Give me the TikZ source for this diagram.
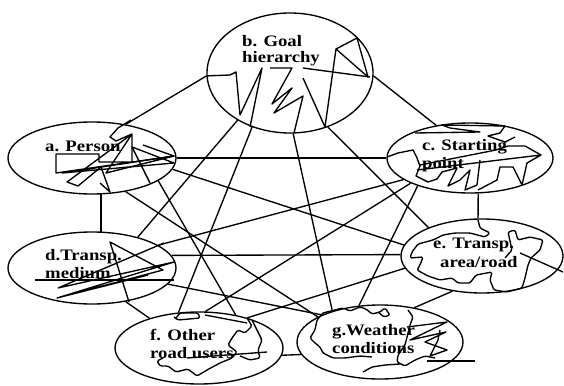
\documentclass[tikz,border=0pt]{standalone}
\usepackage{fontspec}
\usepackage{graphicx}
\setmainfont{Liberation Serif}
\usetikzlibrary{shapes.geometric}
\newcommand{\widetext}[1]{\scalebox{1.17}[1]{#1}}
\begin{document}
\begin{tikzpicture}[x=1pt,y=-1pt,
  factor/.style={ellipse, draw, line width=1.35pt, inner sep=0pt},
  lbl/.style={anchor=base west, inner sep=0pt, font=\fontsize{16}{17}\selectfont\bfseries},
  link/.style={line width=1.35pt},
  scrib/.style={line width=1.35pt, line join=round}]
\useasboundingbox (0,0) rectangle (564,385);

% the seven factors
\node[factor, minimum width=168pt, minimum height=72pt]  (a) at (92,158)  {};
\node[factor, minimum width=166pt, minimum height=120pt] (b) at (290,73)  {};
\node[factor, minimum width=166pt, minimum height=70pt]  (c) at (470,158) {};
\node[factor, minimum width=168pt, minimum height=72pt]  (d) at (92,268)  {};
\node[factor, minimum width=162pt, minimum height=74pt]  (e) at (482,256) {};
\node[factor, minimum width=168pt, minimum height=72pt]  (f) at (199,348) {};
\node[factor, minimum width=166pt, minimum height=74pt]  (g) at (380,342) {};

% labels
\node[lbl] (ta)  at (45,151)  {\widetext{a. Person}};
\node[lbl] (tb1) at (242,47)  {\widetext{b. Goal}};
\node[lbl] (tb2) at (242,63)  {\widetext{hierarchy}};
\node[lbl] (tc1) at (422,150) {\widetext{c. Starting}};
\node[lbl] (tc2) at (422,168) {\widetext{point}};
\node[lbl] (td1) at (45,260)  {\widetext{d.Transp.}};
\node[lbl] (td2) at (45,278)  {\widetext{medium}};
\node[lbl] (te1) at (433,248) {\widetext{e. Transp.}};
\node[lbl] (te2) at (440,267) {\widetext{area/road}};
\node[lbl] (tf1) at (150,340) {\widetext{f. Other}};
\node[lbl] (tf2) at (150,358) {\widetext{road users}};
\node[lbl] (tg1) at (332,335) {\widetext{g.Weather}};
\node[lbl] (tg2) at (332,353) {\widetext{conditions}};

% every factor is linked with every other one
\draw[link] (a.45)   -- (b.182);
\draw[link] (b.-2)   -- (c.136);
\draw[link] (a.0)    -- (c.180);
\draw[link] (a.-76)  -- (d.76);
\draw[link] (a.-8)   -- (e.172);
\draw[link] (a.-19)  -- (f.42);
\draw[link] (a.-45)  -- (g.158);
\draw[link] (b.-138) -- (d.34);
\draw[link] (b.-55)  -- (e.152);
\draw[link] (b.-125) -- (f.120);
\draw[link] (b.-87)  -- (g.147);
\draw[link] (c.-162) -- (d.19);
\draw[link] (c.-77)  -- (e.96);
\draw[link] (c.-157) -- (f.80);
\draw[link] (c.-152) -- (g.120);
\draw[link] (d.9)    -- (e.179);
\draw[link] (d.-45)  -- (f.149);
\draw[link] (d.-12)  -- (g.155);
\draw[link] (e.-171) -- (f.32);
\draw[link] (e.-130) -- (g.45);
\draw[link] (f.-5)   -- (g.-171);

% hand-drawn strokes inside the factors
% a
\draw[scrib] (131,120) -- (118,128) -- (110,137) -- (116,141) -- (132,134) -- (132,162)
  -- (99,162) -- (99,154) -- (56,154) -- (56,173) -- (174,156) -- (106,173) -- (132,134)
  -- (67,182) -- (78,186) -- (101,167) -- (110,192) -- (100,183);
\draw[scrib] (143,145) -- (174,156) -- (62,173) -- (174,163) -- (132,147) -- (150,183);
% b
\draw[scrib] (b.182) -- (230,75) -- (236,72) -- (240,115) -- (262,68) -- (250,127);
\draw[scrib] (270,68) -- (292,68) -- (272,104) -- (292,88) -- (274,113) -- (303,96) -- (294,133);
\draw[scrib] (303,78) -- (325,127) -- (336,49) -- (368,77) -- (357,38) -- (336,49);
\draw[scrib] (303,68) -- (370,77);
% c
\draw[scrib] (415,133) -- (480,132) -- (450,128) -- (442,125) -- (505,126) -- (500,133)
  -- (488,136) -- (505,142) -- (515,137);
\draw[scrib] (387,157) -- (398,153) -- (413,150) -- (417,158) -- (420,166) -- (416,176)
  -- (428,182) -- (437,179) -- (442,172) -- (457,168) -- (448,186) -- (460,180) -- (470,170)
  -- (465,190) -- (477,185) -- (480,160);
\draw[scrib] (417,170) -- (541,155) -- (527,163) -- (522,185) -- (513,167) -- (500,167)
  -- (497,180) -- (478,190);
\draw[scrib] (420,165) -- (496,150) -- (508,146) -- (525,146) -- (541,155);
% d
\draw[scrib] (35,280) -- (174,280);
\draw[scrib] (58,288) -- (164,243) (58,288) -- (174,262) -- (57,298) -- (163,270)
  -- (110,242) -- (129,302) (57,298) -- (148,275);
% e
\draw[scrib, rounded corners=1.5pt] (478,220) -- (480,228) -- (490,233) -- (485,237) -- (470,233)
  -- (455,233) -- (443,235) -- (433,240) -- (418,244) -- (412,252) -- (410,258) -- (423,257)
  -- (420,265) -- (417,270) -- (428,276) -- (440,280) -- (452,278) -- (458,283) -- (470,283)
  -- (476,275) -- (492,272) -- (490,280) -- (494,290) -- (507,292) -- (522,288) -- (525,278)
  -- (528,265) -- (531,258) -- (540,250) -- (543,240) -- (530,237) -- (518,240) -- (515,230)
  -- (508,232) -- (512,250) -- (505,258);
\draw[scrib] (520,253) -- (563,272);
% f
\draw[scrib, rounded corners=1.5pt] (176,318) -- (180,313) -- (198,313) -- (200,318) -- (178,320) -- (174,317);
\draw[scrib] (205,315) -- (247,323);
\draw[scrib, rounded corners=1.5pt] (247,318) -- (252,326) -- (245,333) -- (238,330) -- (232,338)
  -- (228,345) -- (237,352) -- (232,358) -- (220,363) -- (207,370) -- (197,376) -- (188,369)
  -- (176,372) -- (168,366) -- (160,366) -- (157,361) -- (163,358);
\draw[scrib, rounded corners=1.5pt] (252,320) -- (258,332) -- (262,340) -- (258,350) -- (260,358)
  -- (250,360) -- (240,356);
\draw[scrib] (187,358) -- (267,352);
% g
\draw[scrib, rounded corners=1.5pt] (323,313) -- (343,308) -- (350,311) -- (360,307) -- (366,309)
  -- (372,314) -- (380,312) -- (385,308) -- (390,315) -- (384,317) -- (378,312);
\draw[scrib, rounded corners=1.5pt] (323,313) -- (317,320) -- (315,330) -- (310,338) -- (315,343)
  -- (320,347) -- (323,353) -- (333,358) -- (345,358) -- (360,356) -- (372,357);
\draw[scrib, rounded corners=1.5pt] (408,310) -- (413,317) -- (410,325) -- (407,337) -- (405,345)
  -- (398,355) -- (397,362) -- (405,366) -- (415,360) -- (425,356) -- (435,358);
\draw[scrib] (407,327) -- (447,322) -- (410,340) -- (446,332) -- (425,342) -- (447,350)
  -- (430,356) -- (438,340) -- (440,330);
\draw[scrib, rounded corners=1.5pt] (363,372) -- (372,367) -- (385,365) -- (400,364);
\draw[scrib] (427,361) -- (475,361);
\end{tikzpicture}
\end{document}
